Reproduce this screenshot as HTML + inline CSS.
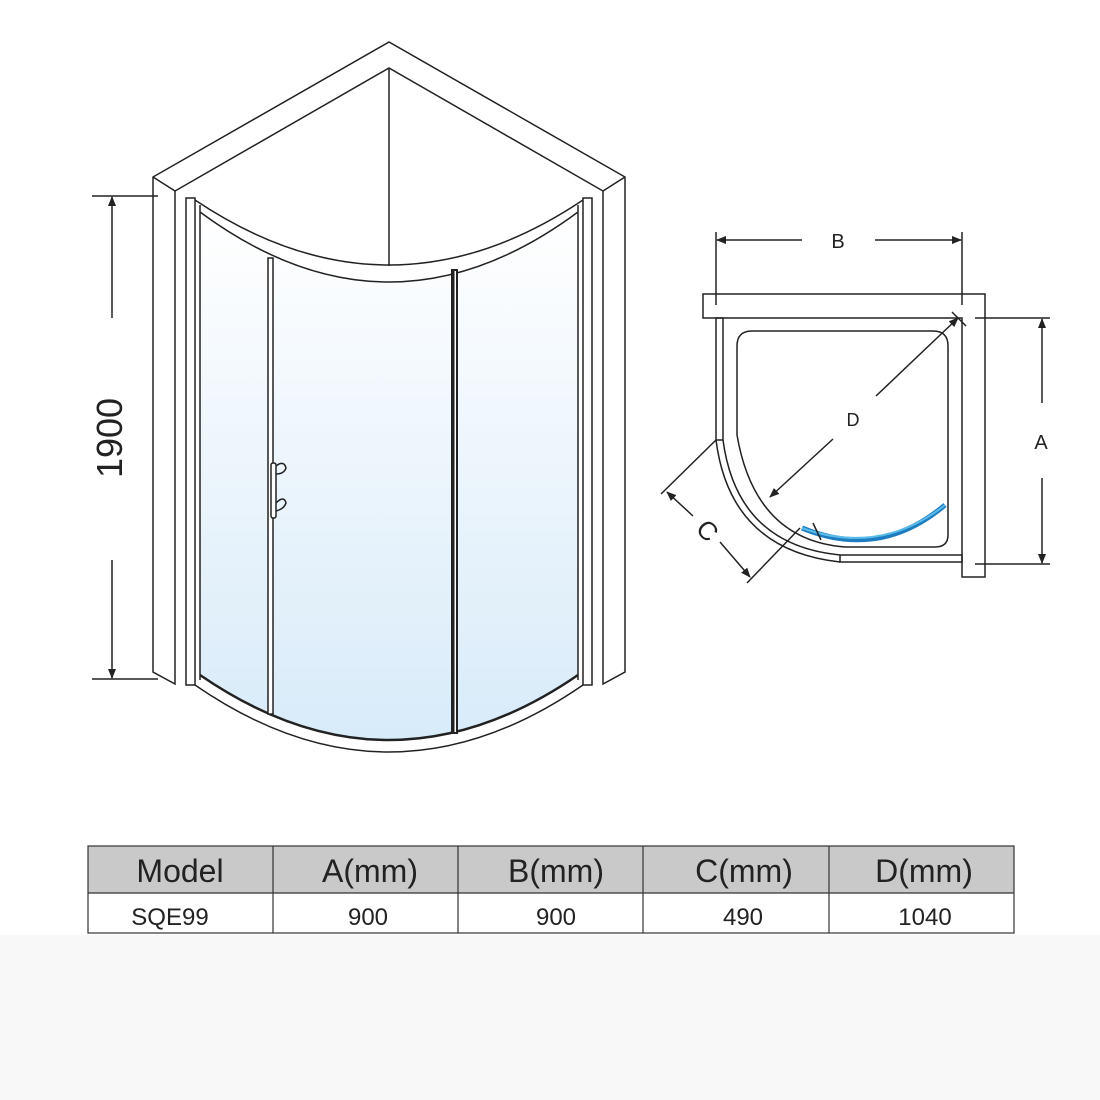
<!DOCTYPE html>
<html><head><meta charset="utf-8"><style>
html,body{margin:0;padding:0;background:#fff;}
body{width:1100px;height:1100px;position:relative;overflow:hidden;font-family:"Liberation Sans",sans-serif;}
.bg{position:absolute;left:0;top:935px;width:1100px;height:165px;background:#f8f8f8;}
svg{position:absolute;left:0;top:0;}
</style></head><body>
<div class="bg"></div>
<svg width="1100" height="1100" viewBox="0 0 1100 1100" xmlns="http://www.w3.org/2000/svg">
<defs>
<linearGradient id="g" x1="0" y1="0" x2="0" y2="1">
<stop offset="0" stop-color="#ffffff"/><stop offset="1" stop-color="#d8ebf9"/>
</linearGradient>
<marker id="ar" markerWidth="10" markerHeight="8" refX="9" refY="4" orient="auto" markerUnits="userSpaceOnUse"><path d="M0,0 L10,4 L0,8 Z" fill="#222"/></marker>
</defs>
<g fill="none" stroke="#222" stroke-width="1.5">
<!-- walls -->
<path d="M153,672 L153,177 L389,42 L625,177 L625,672 L603,684 L603,191 L389,68 L175,191 L175,684 Z" fill="#fff"/>
<line x1="153" y1="177" x2="175" y2="191"/>
<line x1="625" y1="177" x2="603" y2="191"/>
<line x1="389" y1="68" x2="389" y2="266"/>
<!-- glass -->
<path d="M200,212 Q389,352 578,212 L578,675 Q389,805 200,675 Z" fill="url(#g)" stroke="none"/>
<!-- top rail -->
<path d="M195,200 Q389,330 583,200"/>
<path d="M200,212 Q389,352 578,212"/>
<!-- bottom -->
<path d="M200,675 Q389,805 578,675" stroke-width="2.5"/>
<path d="M195,685 Q389,819 583,685"/>
<!-- posts -->
<rect x="186" y="198" width="9" height="487" fill="#fff"/>
<line x1="200" y1="205" x2="200" y2="680"/>
<rect x="583" y="198" width="9" height="487" fill="#fff"/>
<line x1="578" y1="205" x2="578" y2="680"/>
<!-- door verticals -->
<rect x="268" y="258" width="5" height="456" fill="#fff"/>
<rect x="452" y="270" width="5" height="463" fill="#fff" stroke-width="2"/>
<line x1="453" y1="270" x2="453" y2="733" stroke-width="3"/>
<!-- handle -->
<rect x="271" y="463" width="5" height="55" rx="2" fill="#fff"/>
<path d="M276,466 q8,-6 10,2 q-2,6 -10,6"/>
<path d="M276,503 q8,-8 10,0 q-2,6 -10,8"/>
<!-- dim 1900 -->
<line x1="92" y1="196" x2="158" y2="196"/>
<line x1="92" y1="679" x2="158" y2="679"/>
<line x1="112" y1="318" x2="112" y2="197" marker-end="url(#ar)"/>
<line x1="112" y1="560" x2="112" y2="678" marker-end="url(#ar)"/>
</g>
<text x="0" y="0" transform="translate(122,438) rotate(-90)" font-size="36" text-anchor="middle" fill="#222">1900</text>

<!-- plan view -->
<g fill="none" stroke="#222" stroke-width="1.5">
<path d="M703,294 L985,294 L985,577 L962,577 L962,318 L703,318 Z" fill="#fff"/>
<rect x="716" y="318" width="7" height="122"/>
<rect x="840" y="555" width="122" height="7"/>
<path d="M716,440 Q730,550 840,562"/>
<path d="M723,440 Q737,545 840,555"/>
<path d="M737,435 L737,346 Q737,331 752,331 L933,331 Q948,331 948,346 L948,535 Q948,547 935,547 L845,547 Q755,540 737,435 Z"/>
<path d="M802,528 Q880,560 945,505" stroke="#1e7cc0" stroke-width="5"/>
<path d="M802,528 Q880,556 945,505" stroke="#5bbbe8" stroke-width="2"/>
<!-- B -->
<line x1="716" y1="232" x2="716" y2="305"/>
<line x1="962" y1="232" x2="962" y2="305"/>
<line x1="802" y1="240" x2="717" y2="240" marker-end="url(#ar)"/>
<line x1="875" y1="240" x2="961" y2="240" marker-end="url(#ar)"/>
<!-- A -->
<line x1="975" y1="318" x2="1050" y2="318"/>
<line x1="975" y1="564" x2="1050" y2="564"/>
<line x1="1042" y1="403" x2="1042" y2="319" marker-end="url(#ar)"/>
<line x1="1042" y1="478" x2="1042" y2="563" marker-end="url(#ar)"/>
<!-- D -->
<line x1="876" y1="396" x2="958" y2="318" marker-end="url(#ar)"/>
<line x1="833" y1="439" x2="770" y2="497" marker-end="url(#ar)"/>
<line x1="952" y1="312" x2="966" y2="326"/>
<!-- C -->
<line x1="716" y1="440" x2="661" y2="494"/>
<line x1="800" y1="528" x2="747" y2="583"/>
<line x1="693" y1="516" x2="667" y2="492" marker-end="url(#ar)"/>
<line x1="720" y1="542" x2="750" y2="577" marker-end="url(#ar)"/>
<line x1="813" y1="523" x2="821" y2="540"/>
</g>
<text x="838" y="248" font-size="20" text-anchor="middle" fill="#222">B</text>
<text x="1041" y="449" font-size="20" text-anchor="middle" fill="#222">A</text>
<text x="853" y="426" font-size="18" text-anchor="middle" fill="#222">D</text>
<text x="0" y="0" transform="translate(706,532) rotate(45)" font-size="26" text-anchor="middle" dominant-baseline="middle" fill="#222">C</text>

<!-- table -->
<rect x="88" y="846" width="926" height="47" fill="#c9c9c9"/>
<rect x="88" y="893" width="926" height="40" fill="#fff"/>
<g stroke="#333" stroke-width="1.2" fill="none">
<rect x="88" y="846" width="926" height="87"/>
<line x1="88" y1="893" x2="1014" y2="893"/>
<line x1="273" y1="846" x2="273" y2="933"/>
<line x1="458" y1="846" x2="458" y2="933"/>
<line x1="643" y1="846" x2="643" y2="933"/>
<line x1="829" y1="846" x2="829" y2="933"/>
</g>
<g font-size="32" text-anchor="middle" fill="#222">
<text x="180" y="882">Model</text><text x="370" y="882">A(mm)</text><text x="556" y="882">B(mm)</text><text x="744" y="882">C(mm)</text><text x="924" y="882">D(mm)</text>
</g>
<g font-size="24" text-anchor="middle" fill="#222">
<text x="170" y="925">SQE99</text><text x="368" y="925">900</text><text x="556" y="925">900</text><text x="743" y="925">490</text><text x="925" y="925">1040</text>
</g>
</svg>
</body></html>
